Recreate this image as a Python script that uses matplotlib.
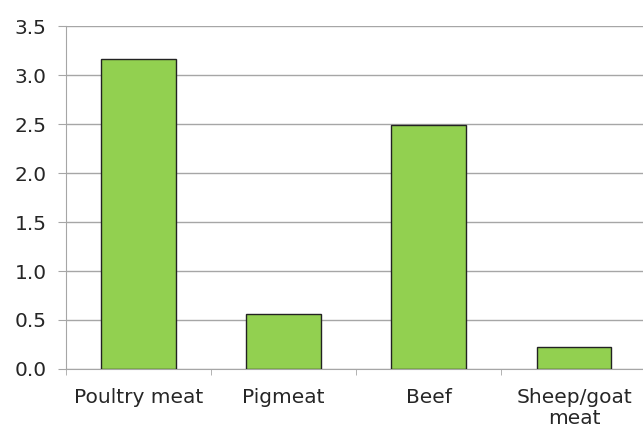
import matplotlib
matplotlib.use("Agg")
import matplotlib.pyplot as plt
import numpy as np

categories = ["Poultry meat", "Pigmeat", "Beef", "Sheep/goat\nmeat"]
values = [3.16, 0.56, 2.49, 0.22]
yticks = [0.0, 0.5, 1.0, 1.5, 2.0, 2.5, 3.0, 3.5]

plt.rcParams['font.family'] = ['DejaVu Sans']
fig = plt.figure(figsize=(6.43, 4.29), dpi=100)
ax = fig.add_axes([0.1026, 0.14, 0.903, 0.799])

x = np.arange(len(categories))
ax.bar(x, values, width=0.515, color="#92D050", edgecolor="#222222", linewidth=1.0, zorder=3)

ax.set_xlim(-0.5, len(categories) - 0.5)
ax.set_ylim(0, 3.5)
ax.set_yticks(yticks)
ax.set_yticklabels([f"{v:.1f}" for v in yticks], fontsize=14.5, color="#262626")
ax.yaxis.grid(True, color="#A6A6A6", linewidth=1.0, zorder=0)
ax.tick_params(axis='y', length=6, color="#A6A6A6", pad=8)

ax.set_xticks(x)
ax.set_xticklabels(categories, fontsize=14.5, color="#262626", linespacing=1.1)
ax.set_xticks(np.arange(-0.5, len(categories), 1.0), minor=True)
ax.tick_params(axis='x', which='major', length=0, pad=14)
ax.tick_params(axis='x', which='minor', length=4.5, color="#A6A6A6")

for s in ["top", "right"]:
    ax.spines[s].set_visible(False)
ax.spines["left"].set_color("#A6A6A6")
ax.spines["bottom"].set_color("#A6A6A6")

fig.savefig("out.png", dpi=100)
